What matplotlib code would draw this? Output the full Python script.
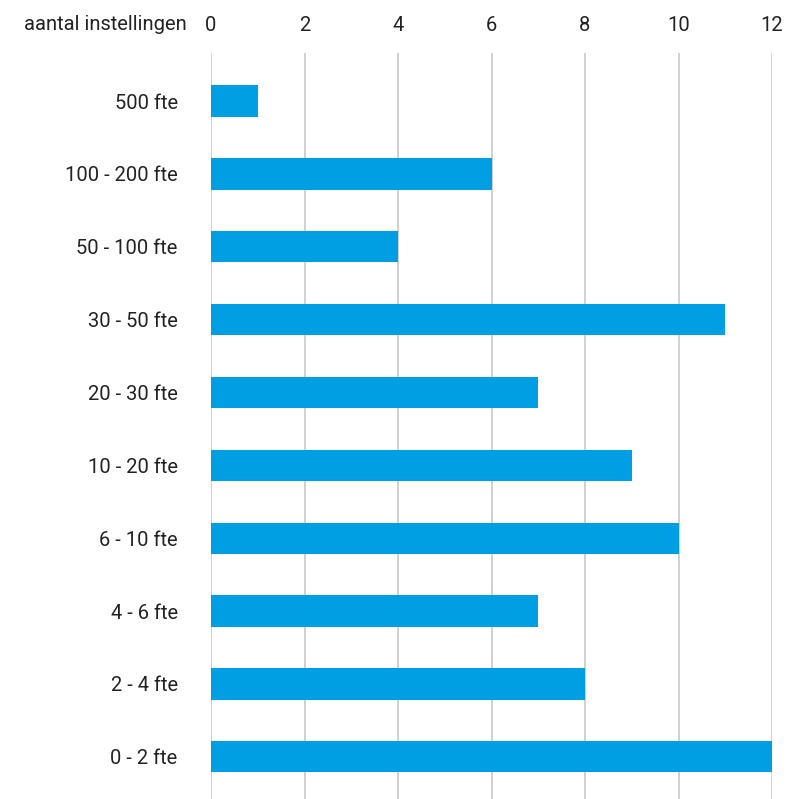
import matplotlib
matplotlib.use("Agg")
import matplotlib.pyplot as plt

categories = ["0 - 2 fte", "2 - 4 fte", "4 - 6 fte", "6 - 10 fte", "10 - 20 fte",
              "20 - 30 fte", "30 - 50 fte", "50 - 100 fte", "100 - 200 fte", "500 fte"]
values = [12, 8, 7, 10, 9, 7, 11, 4, 6, 1]
xticks = [0, 2, 4, 6, 8, 10, 12]
axis_title = "aantal instellingen"

plt.rcParams['font.family'] = ['Roboto', 'DejaVu Sans']
fig = plt.figure(figsize=(7.88, 7.99), dpi=100)
ax = fig.add_axes([211/788, 0, (772-211)/788, (799-53)/799])

ypos = list(range(len(categories)))
ax.barh(ypos, values, height=0.43, color="#009FE3", zorder=3)
ax.set_xlim(0, 12)
ax.set_ylim(-0.58, 9.66)
ax.set_xticks(xticks)
ax.set_xticklabels([str(t) for t in xticks])
ax.set_yticks(ypos)
ax.set_yticklabels(categories)
ax.xaxis.tick_top()
ax.tick_params(axis='x', length=0, pad=13, labelsize=14.5, labelcolor="#222222")
ax.tick_params(axis='y', length=0, pad=24, labelsize=14.5, labelcolor="#222222")
for s in ax.spines.values():
    s.set_visible(False)
ax.grid(axis='x', color="#c8c8c8", linewidth=1.2, zorder=0)
ax.grid(axis='y', visible=False)

fig.text(187/788, 1 - 25/799, axis_title, ha='right', va='center',
         fontsize=14.5, color="#222222")

fig.savefig("out.png", dpi=100)
